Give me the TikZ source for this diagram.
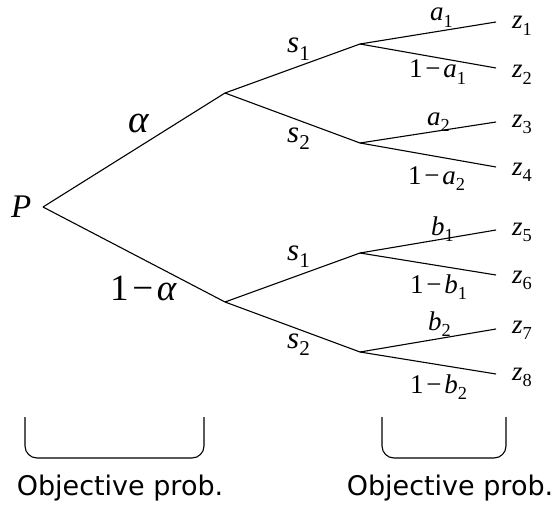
\documentclass[tikz,border=0pt]{standalone}
\usepackage{fontspec}
\setmainfont{Liberation Serif}
\newfontfamily\labfont{DejaVu Sans}
\newcommand{\vsub}[2]{\textit{#1}\raisebox{-0.23em}{\fontsize{0.68em}{0.68em}\selectfont\upshape #2}}
\newcommand{\mminus}{\hspace{0.1em}−\hspace{0.1em}}
\tikzset{
  br/.style={line width=1.1pt},
  zl/.style={inner sep=0pt,anchor=base west,font=\fontsize{27}{27}\selectfont},
  pl/.style={inner sep=0pt,anchor=base west,font=\fontsize{27}{27}\selectfont},
  sl/.style={inner sep=0pt,anchor=base west,font=\fontsize{31}{31}\selectfont},
  bigl/.style={inner sep=0pt,anchor=base west,font=\fontsize{37}{37}\selectfont},
  brk/.style={line width=1.1pt,rounded corners=12pt},
  captext/.style={inner sep=0pt,anchor=base,font=\labfont\fontsize{27}{27}\selectfont}
}
\begin{document}
\begin{tikzpicture}[x=1pt,y=-1pt]
\useasboundingbox (0,0) rectangle (553,508);
% nodes
\coordinate (P) at (43,207);
\coordinate (A) at (225,93);
\coordinate (B) at (225,302);
\coordinate (A1) at (360,44);
\coordinate (A2) at (360,143);
\coordinate (B1) at (360,253);
\coordinate (B2) at (360,352);
\coordinate (z1) at (496,22);
\coordinate (z2) at (496,68);
\coordinate (z3) at (496,122);
\coordinate (z4) at (496,167);
\coordinate (z5) at (496,230);
\coordinate (z6) at (496,275);
\coordinate (z7) at (496,329);
\coordinate (z8) at (496,374);
% edges
\draw[br] (P) -- (A);
\draw[br] (P) -- (B);
\draw[br] (A) -- (A1);
\draw[br] (A) -- (A2);
\draw[br] (B) -- (B1);
\draw[br] (B) -- (B2);
\draw[br] (A1) -- (z1);
\draw[br] (A1) -- (z2);
\draw[br] (A2) -- (z3);
\draw[br] (A2) -- (z4);
\draw[br] (B1) -- (z5);
\draw[br] (B1) -- (z6);
\draw[br] (B2) -- (z7);
\draw[br] (B2) -- (z8);
% labels
\node[bigl,font=\fontsize{33}{33}\selectfont] (lP) at (11,217) {\textit{P}};
\node[bigl,font=\fontsize{39}{39}\selectfont] (lal) at (128,132) {\textit{α}};
\node[bigl] (l1al) at (110,300) {1\mminus\textit{α}};
\node[sl] (ls1a) at (287,53) {\vsub{s}{1}};
\node[sl] (ls2a) at (287,142) {\vsub{s}{2}};
\node[sl] (ls1b) at (287,260) {\vsub{s}{1}};
\node[sl] (ls2b) at (287,348) {\vsub{s}{2}};
\node[pl,text height=0.45em] (la1) at (430,21) {\vsub{a}{1}};
\node[pl] (l1a1) at (409,78) {1\mminus\vsub{a}{1}};
\node[pl] (la2) at (427,125) {\vsub{a}{2}};
\node[pl] (l1a2) at (408,184) {1\mminus\vsub{a}{2}};
\node[pl] (lb1) at (431,235) {\vsub{b}{1}};
\node[pl] (l1b1) at (410,293) {1\mminus\vsub{b}{1}};
\node[pl] (lb2) at (428,330) {\vsub{b}{2}};
\node[pl] (l1b2) at (410,393) {1\mminus\vsub{b}{2}};
\node[zl] (t1) at (512,29) {\vsub{z}{1}};
\node[zl] (t2) at (512,78) {\vsub{z}{2}};
\node[zl] (t3) at (512,127) {\vsub{z}{3}};
\node[zl] (t4) at (512,175) {\vsub{z}{4}};
\node[zl] (t5) at (512,235) {\vsub{z}{5}};
\node[zl] (t6) at (512,283) {\vsub{z}{6}};
\node[zl] (t7) at (512,333) {\vsub{z}{7}};
\node[zl] (t8) at (512,380) {\vsub{z}{8}};
% brackets
\draw[brk] (25,417) -- (25,458) -- (204,458) -- (204,417);
\draw[brk] (382,417) -- (382,458) -- (506,458) -- (506,417);
\node[captext] (c1) at (120,495) {Objective prob.};
\node[captext] (c2) at (450,495) {Objective prob.};
\end{tikzpicture}
\end{document}
